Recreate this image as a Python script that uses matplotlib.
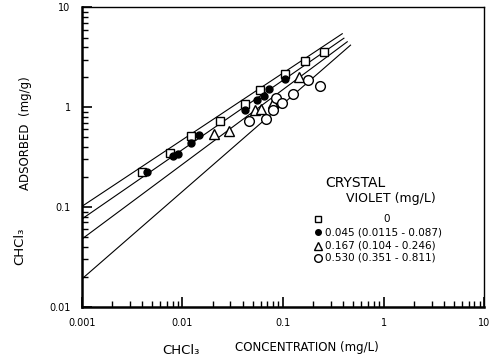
import numpy as np
import matplotlib
matplotlib.use("Agg")
import matplotlib.pyplot as plt

# ---- data ----
# open squares: crystal violet 0 mg/L
sq_x = [0.00396, 0.00747, 0.0123, 0.0235, 0.0423, 0.0597, 0.104, 0.166, 0.259]
sq_y = [0.226, 0.351, 0.515, 0.73, 1.07, 1.49, 2.16, 2.94, 3.56]

# filled circles: 0.045 mg/L
fc_x = [0.00443, 0.00816, 0.00903, 0.0123, 0.0145, 0.0423, 0.0553, 0.0650, 0.0722, 0.104]
fc_y = [0.223, 0.325, 0.338, 0.436, 0.527, 0.94, 1.18, 1.30, 1.51, 1.91]

# open triangles: 0.167 mg/L
tr_x = [0.0205, 0.029, 0.0532, 0.0611, 0.0804, 0.146]
tr_y = [0.54, 0.58, 0.94, 0.96, 1.10, 2.03]

# open circles: 0.530 mg/L
oc_x = [0.046, 0.068, 0.080, 0.086, 0.097, 0.127, 0.179, 0.236]
oc_y = [0.73, 0.76, 0.94, 1.24, 1.10, 1.36, 1.88, 1.62]

# fitted isotherm lines (value at C = 0.001 mg/L, log-log slope, end concentration)
line_y0 = [0.101, 0.0755, 0.0475, 0.0189]
line_slope = [0.669, 0.696, 0.750, 0.878]
line_xend = [0.389, 0.404, 0.436, 0.47]
line_x0 = 0.001

legend_labels = ["0", "0.045 (0.0115 - 0.087)", "0.167 (0.104 - 0.246)", "0.530 (0.351 - 0.811)"]
xtick_vals = [0.001, 0.01, 0.1, 1, 10]
xtick_labels = ["0.001", "0.01", "0.1", "1", "10"]
ytick_vals = [0.01, 0.1, 1, 10]
ytick_labels = ["0.01", "0.1", "1", "10"]

plt.rcParams['font.family'] = ['DejaVu Sans']

fig = plt.figure(figsize=(4.94, 3.62), dpi=100)
ax = fig.add_axes([0.1654, 0.1528, 0.8146, 0.8265])
ax.set_xscale('log')
ax.set_yscale('log')
ax.set_xlim(0.001, 10)
ax.set_ylim(0.01, 10)

for y0, s, xe in zip(line_y0, line_slope, line_xend):
    xs = np.array([line_x0, xe])
    ys = y0 * (xs / line_x0) ** s
    ax.plot(xs, ys, color='black', lw=0.8, zorder=2)

mk = dict(linestyle='none', markeredgecolor='black', markeredgewidth=1.0, zorder=3)
ax.plot(sq_x, sq_y, marker='s', ms=6, markerfacecolor='white', **mk)
ax.plot(fc_x, fc_y, marker='o', ms=5, markerfacecolor='black', **mk)
ax.plot(tr_x, tr_y, marker='^', ms=6.5, markerfacecolor='white', **mk)
ax.plot(oc_x, oc_y, marker='o', ms=7, markerfacecolor='white', **mk)

ax.set_xticks(xtick_vals)
ax.set_xticklabels(xtick_labels)
ax.set_yticks(ytick_vals)
ax.set_yticklabels(ytick_labels)
ax.tick_params(which='major', direction='in', length=7, width=1.2, labelsize=7, top=False, right=False)
ax.tick_params(which='minor', direction='in', length=4, width=1.0, top=False, right=False)
ax.tick_params(axis='x', pad=8)
ax.tick_params(axis='y', pad=8)
for sp in ax.spines.values():
    sp.set_linewidth(1.0)
ax.spines['left'].set_linewidth(1.8)
ax.spines['bottom'].set_linewidth(1.8)

# axis labels
fig.text(25 / 494, 1 - 133 / 362, "ADSORBED  (mg/g)", rotation=90, ha='center', va='center', fontsize=8.5)
fig.text(20 / 494, 1 - 246 / 362, "CHCl₃", rotation=90, ha='center', va='center', fontsize=9.5)
fig.text(181 / 494, 1 - 350 / 362, "CHCl₃", ha='center', va='center', fontsize=9.5)
fig.text(307 / 494, 1 - 348 / 362, "CONCENTRATION (mg/L)", ha='center', va='center', fontsize=8.5)

# legend (drawn manually)
fig.text(355 / 494, 1 - 183 / 362, "CRYSTAL", ha='center', va='center', fontsize=10)
fig.text(346 / 494, 1 - 198 / 362, "VIOLET (mg/L)", ha='left', va='center', fontsize=9)
leg_markers = [('s', 'white', 5), ('o', 'black', 4), ('^', 'white', 5.5), ('o', 'white', 5.5)]
row_y = [219.3, 232.3, 245.7, 257.7]
for (m, fc, ms), lab, ry in zip(leg_markers, legend_labels, row_y):
    fig.add_artist(plt.Line2D([317.7 / 494], [1 - ry / 362], marker=m, ms=ms, markerfacecolor=fc,
                              markeredgecolor='black', markeredgewidth=1.0, linestyle='none',
                              transform=fig.transFigure))
    if lab == "0":
        fig.text(386.7 / 494, 1 - ry / 362, lab, ha='center', va='center', fontsize=7.5)
    else:
        fig.text(325 / 494, 1 - ry / 362, lab, ha='left', va='center', fontsize=7.5)

fig.savefig("out.png", dpi=100)
